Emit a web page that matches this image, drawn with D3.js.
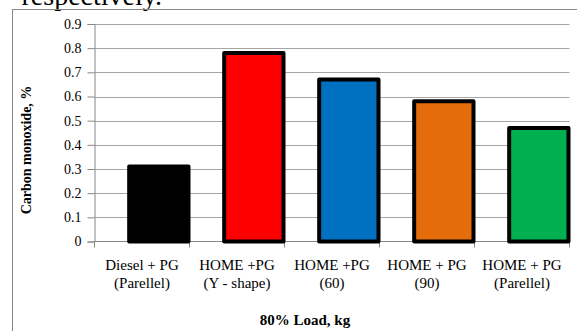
<!DOCTYPE html>
<html>
<head>
<meta charset="utf-8">
<script src="https://cdn.jsdelivr.net/npm/d3@7"></script>
<style>
  html, body { margin: 0; padding: 0; background: #fff; }
  svg { display: block; }
  text { font-family: "Liberation Serif", "Times New Roman", serif; fill: #000; }
</style>
</head>
<body>
<svg id="chart" width="577" height="331"></svg>
<script>
// Carbon monoxide emission at 80% load
const categories = [
  ["Diesel + PG", "(Parellel)"],
  ["HOME +PG", "(Y - shape)"],
  ["HOME +PG", "(60)"],
  ["HOME + PG", "(90)"],
  ["HOME + PG", "(Parellel)"]
];
const values = [0.31, 0.78, 0.67, 0.58, 0.47];
const colors = ["#000000", "#FF0000", "#0070C0", "#E46C0A", "#00B050"];
const yTicks = [0, 0.1, 0.2, 0.3, 0.4, 0.5, 0.6, 0.7, 0.8, 0.9];

const SERIF = "'Liberation Serif', 'Times New Roman', serif";
const svg = d3.select("#chart");
const W = 577, H = 331;
const plot = { left: 94.5, right: 569.5, top: 24, bottom: 241.5 };

// trailing line of the surrounding paragraph
svg.append("text")
  .attr("x", 162).attr("y", 5)
  .attr("text-anchor", "end")
  .attr("font-family", SERIF)
  .style("font-size", "28px")
  .text("respectively.");

// chart frame
svg.append("rect")
  .attr("x", 12.5).attr("y", 9.5)
  .attr("width", W).attr("height", H)
  .attr("fill", "none").attr("stroke", "#888").attr("stroke-width", 1);

const ids = categories.map((c, i) => i);
const x = d3.scaleBand().domain(ids).range([plot.left, plot.right]).padding(0);
const y = d3.scaleLinear().domain([0, 0.9]).range([plot.bottom, plot.top]);

// gridlines
svg.append("g")
  .selectAll("line")
  .data(yTicks.filter(t => t > 0))
  .join("line")
  .attr("x1", plot.left).attr("x2", plot.right)
  .attr("y1", d => Math.round(y(d)) + 0.5).attr("y2", d => Math.round(y(d)) + 0.5)
  .attr("stroke", "#a6a6a6").attr("stroke-width", 1);

// y axis
const yAxis = svg.append("g")
  .attr("transform", `translate(${plot.left},0)`)
  .call(d3.axisLeft(y).tickValues(yTicks).tickSize(7).tickPadding(6)
    .tickFormat(d => d === 0 ? "0" : d3.format(".1f")(d)))
  .attr("font-family", SERIF)
  .attr("font-size", 14);
yAxis.select(".domain").attr("stroke", "#868686");
yAxis.selectAll(".tick line").attr("stroke", "#868686");
yAxis.selectAll(".tick text").attr("fill", "#000");

// x axis with tick marks at category boundaries
const edges = ids.map(i => x(i)).concat([x(ids.length - 1) + x.bandwidth()]);
const xg = svg.append("g").attr("transform", `translate(0,${plot.bottom})`);
xg.append("line")
  .attr("x1", plot.left).attr("x2", plot.right).attr("y1", 0).attr("y2", 0)
  .attr("stroke", "#868686");
xg.selectAll("line.tk")
  .data(edges)
  .join("line").attr("class", "tk")
  .attr("x1", d => d).attr("x2", d => d)
  .attr("y1", 0).attr("y2", 6)
  .attr("stroke", "#868686");

// category labels (two lines each)
const lab = svg.append("g").selectAll("text")
  .data(categories)
  .join("text")
  .attr("text-anchor", "middle")
  .attr("font-family", SERIF)
  .style("font-size", "15px");
lab.each(function (d, i) {
  const cx = x(i) + x.bandwidth() / 2;
  d3.select(this).selectAll("tspan").data(d).join("tspan")
    .attr("x", cx)
    .attr("y", (t, j) => 270 + j * 18)
    .text(t => t);
});

// bars sit against the right-hand edge of each category
const barStart = 0.365, barSpan = 0.635;
svg.append("g").selectAll("rect")
  .data(values)
  .join("rect")
  .attr("x", (d, i) => x(i) + x.bandwidth() * barStart)
  .attr("width", x.bandwidth() * barSpan - 1)
  .attr("y", d => y(d))
  .attr("height", d => y(0) - y(d))
  .attr("fill", (d, i) => colors[i])
  .attr("stroke", "#000")
  .attr("stroke-width", 4)
  .attr("stroke-linejoin", "round");

// axis titles
svg.append("text")
  .attr("transform", "translate(31,150) rotate(-90)")
  .attr("text-anchor", "middle")
  .attr("font-family", SERIF)
  .style("font-size", "14px").style("font-weight", "bold")
  .text("Carbon monoxide, %");

svg.append("text")
  .attr("x", 305).attr("y", 325)
  .attr("text-anchor", "middle")
  .attr("font-family", SERIF)
  .style("font-size", "15px").style("font-weight", "bold")
  .text("80% Load, kg");
</script>
</body>
</html>
